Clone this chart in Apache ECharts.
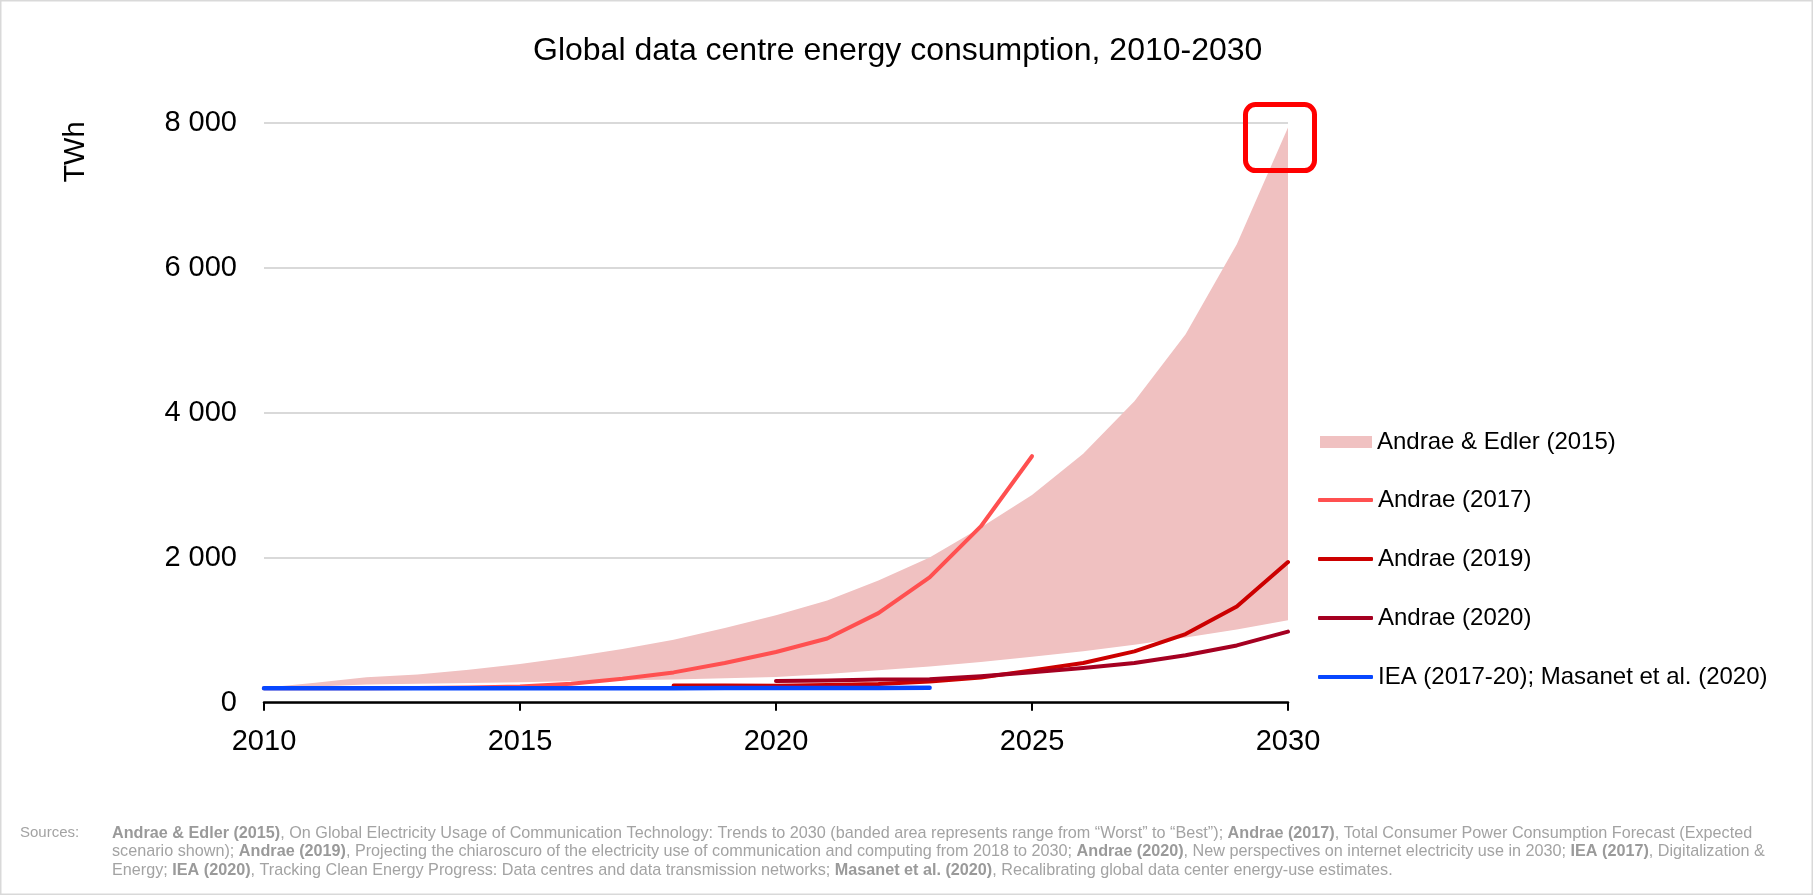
<!DOCTYPE html>
<html>
<head>
<meta charset="utf-8">
<title>Global data centre energy consumption, 2010-2030</title>
<script src="https://cdn.jsdelivr.net/npm/echarts@6/dist/echarts.min.js"></script>
<style>
  html, body { margin: 0; padding: 0; background: #ffffff; }
  #main { width: 1813px; height: 895px; }
</style>
</head>
<body>
<div id="main"></div>
<script>
// Years on the horizontal axis
const years = [2010, 2011, 2012, 2013, 2014, 2015, 2016, 2017, 2018, 2019, 2020,
               2021, 2022, 2023, 2024, 2025, 2026, 2027, 2028, 2029, 2030];

// Andrae & Edler (2015) range, TWh: "Best" (lower edge) and "Worst" (upper edge)
const bestCase  = [200, 225, 250, 262, 272, 283, 295, 308, 321, 336, 353,
                   397, 446, 501, 563, 633, 711, 800, 899, 1010, 1137];
const worstCase = [205, 275, 350, 390, 455, 535, 630, 740, 869, 1030, 1205,
                   1411, 1686, 2003, 2415, 2864, 3435, 4158, 5083, 6325, 7933];

// Andrae (2017), expected scenario, 2010-2025
const andrae2017 = [200, 200, 200, 203, 210, 225, 262, 331, 418, 547, 700,
                    885, 1236, 1728, 2431, 3400];
// Andrae (2019), 2018-2030
const andrae2019 = [238, 236, 234, 245, 257, 294, 349, 446, 547, 708, 947, 1328, 1940];
// Andrae (2020), 2020-2030
const andrae2020 = [298, 305, 320, 322, 365, 420, 480, 548, 655, 790, 980];
// IEA (2017-20); Masanet et al. (2020), 2010-2023
const ieaMasanet = [198, 198, 199, 199, 200, 200, 200, 200, 201, 202, 203, 203, 204, 206];

// Axis ticks
const xTicks = [2010, 2015, 2020, 2025, 2030];
const yTicks = [0, 2000, 4000, 6000, 8000];

const seriesNames = ['Andrae & Edler (2015)', 'Andrae (2017)', 'Andrae (2019)', 'Andrae (2020)',
                     'IEA (2017-20); Masanet et al. (2020)'];

const FONT = '"Liberation Sans", Arial, Helvetica, sans-serif';
const GREY = '#a3a3a3';
const BAND = '#f0c1c1';

function pairs(fromYear, values) {
  const start = years.indexOf(fromYear);
  return values.map((v, i) => [years[start + i], v]);
}
function spaced(v) {
  return String(v).replace(/\B(?=(\d{3})+(?!\d))/g, ' ');
}

function lineSeries(name, color, fromYear, values, width, z) {
  return {
    name: name,
    type: 'line',
    data: pairs(fromYear, values),
    symbol: 'none',
    color: color,
    lineStyle: { color: color, width: width, cap: 'round', join: 'round' },
    z: z,
    silent: true
  };
}

const sourcesText = [
  '{b|Andrae & Edler (2015)}, On Global Electricity Usage of Communication Technology: Trends to 2030 (banded area represents range from \u201cWorst\u201d to \u201cBest\u201d); {b|Andrae (2017)}, Total Consumer Power Consumption Forecast (Expected',
  'scenario shown); {b|Andrae (2019)}, Projecting the chiaroscuro of the electricity use of communication and computing from 2018 to 2030; {b|Andrae (2020)}, New perspectives on internet electricity use in 2030; {b|IEA (2017)}, Digitalization &',
  'Energy; {b|IEA (2020)}, Tracking Clean Energy Progress: Data centres and data transmission networks; {b|Masanet et al. (2020)}, Recalibrating global data center energy-use estimates.'
].join('\n');

const option = {
  animation: false,
  backgroundColor: '#ffffff',
  textStyle: { fontFamily: FONT },
  title: [
    {
      text: 'Global data centre energy consumption, 2010-2030',
      left: 533,
      top: 35,
      padding: 0,
      textStyle: { fontSize: 32, fontWeight: 'normal', color: '#000000', fontFamily: FONT }
    },
    {
      text: 'Sources:',
      left: 20,
      top: 824,
      padding: 0,
      textStyle: { fontSize: 15, fontWeight: 'normal', color: GREY, fontFamily: FONT, lineHeight: 18.5 }
    },
    {
      text: sourcesText,
      left: 112,
      top: 824,
      padding: 0,
      textStyle: {
        fontSize: 16.2, fontWeight: 'normal', color: GREY, fontFamily: FONT, lineHeight: 18.5,
        rich: {
          b: { fontSize: 16.2, fontWeight: 'bold', color: '#9a9a9a', fontFamily: FONT, lineHeight: 18.5 }
        }
      }
    }
  ],
  legend: [
    {
      id: 'bandLegend',
      orient: 'vertical',
      left: 1315,
      top: 425,
      itemWidth: 52,
      itemHeight: 12,
      selectedMode: false,
      data: [{ name: seriesNames[0], icon: 'rect' }],
      textStyle: { fontSize: 24, color: '#000000', fontFamily: FONT }
    },
    {
      id: 'lineLegend',
      orient: 'vertical',
      left: 1313,
      top: 483,
      itemWidth: 55,
      itemHeight: 4,
      itemGap: 35,
      selectedMode: false,
      data: seriesNames.slice(1).map(n => ({ name: n, icon: 'roundRect' })),
      textStyle: { fontSize: 24, color: '#000000', fontFamily: FONT }
    }
  ],
  grid: { left: 264, right: 525, top: 122.7, bottom: 192.3, containLabel: false },
  xAxis: {
    type: 'value',
    min: xTicks[0],
    max: xTicks[xTicks.length - 1],
    interval: xTicks[1] - xTicks[0],
    axisLine: { show: true, lineStyle: { color: '#000000', width: 2.5 } },
    axisTick: { show: true, length: 8, lineStyle: { color: '#000000', width: 2 } },
    splitLine: { show: false },
    axisLabel: {
      fontSize: 29, color: '#000000', fontFamily: FONT, margin: 25,
      formatter: v => String(v)
    }
  },
  yAxis: {
    type: 'value',
    min: yTicks[0],
    max: yTicks[yTicks.length - 1],
    interval: yTicks[1] - yTicks[0],
    axisLine: { show: false },
    axisTick: { show: false },
    splitLine: { show: true, lineStyle: { color: '#d9d9d9', width: 2 } },
    axisLabel: {
      fontSize: 29, color: '#000000', fontFamily: FONT, margin: 27,
      formatter: v => spaced(v)
    }
  },
  series: [
    {
      // Shaded range between the "Best" and "Worst" scenarios
      name: seriesNames[0],
      type: 'custom',
      coordinateSystem: 'cartesian2d',
      data: years.map((y, i) => [y, bestCase[i], worstCase[i]]),
      encode: { x: 0, y: [1, 2] },
      itemStyle: { color: BAND },
      color: BAND,
      silent: true,
      z: 1,
      renderItem: function (params, api) {
        if (params.dataIndex !== 0) return null;
        const pts = [];
        for (let i = 0; i < years.length; i++) pts.push(api.coord([years[i], worstCase[i]]));
        for (let i = years.length - 1; i >= 0; i--) pts.push(api.coord([years[i], bestCase[i]]));
        return { type: 'polygon', shape: { points: pts }, style: { fill: BAND } };
      }
    },
    lineSeries(seriesNames[1], '#ff5050', 2010, andrae2017, 4, 3),
    lineSeries(seriesNames[2], '#cc0000', 2018, andrae2019, 4, 4),
    lineSeries(seriesNames[3], '#a50021', 2020, andrae2020, 4, 5),
    lineSeries(seriesNames[4], '#0747ff', 2010, ieaMasanet, 4.5, 6)
  ],
  graphic: {
    elements: [
      {
        id: 'frame',
        type: 'rect',
        silent: true,
        shape: { x: 0.75, y: 0.75, width: 1811.5, height: 893.5 },
        style: { fill: 'none', stroke: '#d9d9d9', lineWidth: 1.5 }
      },
      {
        id: 'unit',
        type: 'text',
        x: 76,
        y: 152,
        rotation: Math.PI / 2,
        silent: true,
        style: {
          text: 'TWh', fontSize: 29, fontFamily: FONT, fill: '#000000',
          align: 'center', verticalAlign: 'middle'
        }
      }
    ]
  }
};

const chart = echarts.init(document.getElementById('main'), null, { renderer: 'canvas', width: 1813, height: 895 });
chart.setOption(option);

// Highlight box around the 2030 "Worst" value
const peak = chart.convertToPixel({ gridIndex: 0 }, [years[years.length - 1], worstCase[worstCase.length - 1]]);
chart.setOption({
  graphic: {
    elements: [
      {
        id: 'peakBox',
        type: 'rect',
        silent: true,
        z: 100,
        shape: { x: peak[0] - 42.5, y: peak[1] - 23, width: 69, height: 66, r: 10 },
        style: { fill: 'none', stroke: '#ff0000', lineWidth: 5 }
      }
    ]
  }
});
</script>
</body>
</html>
